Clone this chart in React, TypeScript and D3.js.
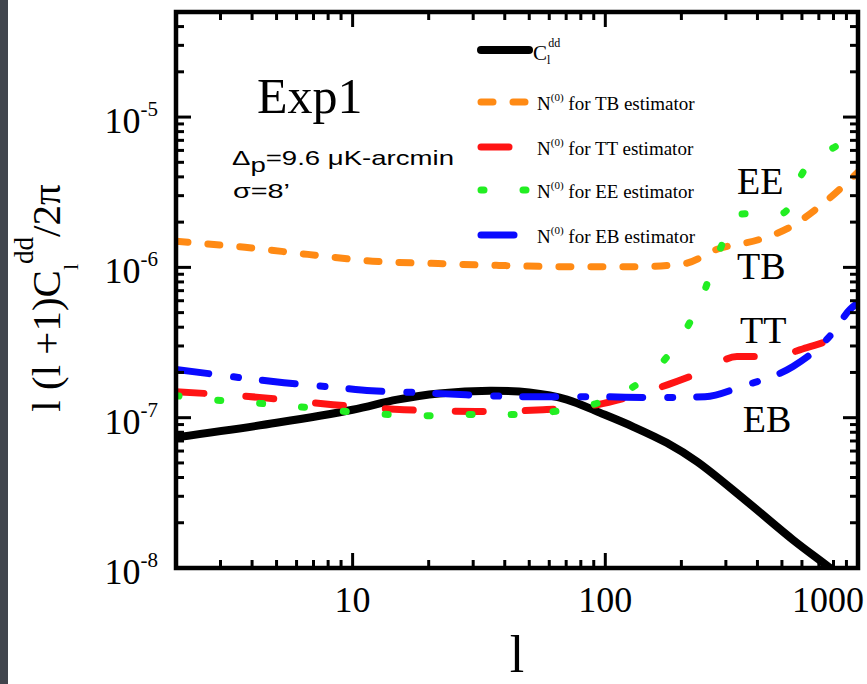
import React from 'react';
import * as d3 from 'd3';

const W = 867;
const H = 684;

// Multipole values and curves (l(l+1)C_l/2pi)
const ellCdd = [2, 5, 10, 15, 22, 35, 50, 70.5, 95, 129, 175, 231, 357, 553, 775, 1000];
const cdd = [7.4e-8, 9.25e-8, 1.13e-7, 1.32e-7, 1.45e-7, 1.51e-7, 1.47e-7, 1.32e-7, 1.08e-7, 8.7e-8, 6.8e-8, 5.09e-8, 2.84e-8, 1.54e-8, 1.0e-8, 7.1e-9];

const ellTB = [2, 3.75, 6.65, 12, 21.8, 38, 74.5, 133, 206, 277, 410, 538, 706, 1000];
const nTB = [1.49e-6, 1.36e-6, 1.22e-6, 1.1e-6, 1.06e-6, 1.03e-6, 1.01e-6, 1.01e-6, 1.06e-6, 1.32e-6, 1.54e-6, 1.85e-6, 2.55e-6, 4.3e-6];

const ellTT = [2, 4.38, 8.36, 16, 30.8, 56.7, 92.7, 122, 177, 243, 332, 460, 628, 871, 1000];
const nTT = [1.49e-7, 1.36e-7, 1.22e-7, 1.13e-7, 1.1e-7, 1.13e-7, 1.22e-7, 1.36e-7, 1.66e-7, 2.03e-7, 2.55e-7, 2.55e-7, 2.93e-7, 3.47e-7, 3.7e-7];

const ellEE = [2, 3.04, 4.42, 6.54, 9.5, 13.9, 20.6, 29.9, 44.7, 65, 97, 141, 197, 241, 277, 341, 420, 505, 606, 865, 1000];
const nEE = [1.4e-7, 1.3e-7, 1.24e-7, 1.17e-7, 1.1e-7, 1.05e-7, 1.03e-7, 1.05e-7, 1.05e-7, 1.11e-7, 1.28e-7, 1.79e-7, 3.31e-7, 6.3e-7, 1.18e-6, 2.26e-6, 2.3e-6, 2.3e-6, 4.3e-6, 6.8e-6, 8.2e-6];

const ellEB = [2, 2.85, 3.55, 5.35, 7.92, 11.9, 18, 28.1, 49, 88.6, 161, 248, 364, 449, 553, 796, 929, 1000];
const nEB = [2.09e-7, 1.94e-7, 1.85e-7, 1.71e-7, 1.61e-7, 1.51e-7, 1.47e-7, 1.42e-7, 1.38e-7, 1.38e-7, 1.36e-7, 1.38e-7, 1.66e-7, 1.85e-7, 2.19e-7, 3.69e-7, 5.25e-7, 5.8e-7];

const xDomain = [2, 1000];
const yDomain = [1e-8, 5e-5];
const xTickLabels = [10, 100, 1000];
const yTickExps = [-8, -7, -6, -5];

const legendLabels = ['TB', 'TT', 'EE', 'EB'];
const curveTags = [
  { text: 'EE', l: 332, v: 3.07e-6 },
  { text: 'TB', l: 332, v: 8.32e-7 },
  { text: 'TT', l: 341, v: 3.16e-7 },
  { text: 'EB', l: 350, v: 8.07e-8 },
];

const SERIF = "'Liberation Serif', 'Times New Roman', serif";
const SANS = "'Liberation Sans', Arial, sans-serif";

export default function App() {
  const left = 176, right = 858, top = 12, bottom = 568;
  const x = d3.scaleLog().domain(xDomain).range([left, right]);
  const y = d3.scaleLog().domain(yDomain).range([bottom, top]);

  const mkPath = (ls: number[], vs: number[], smooth: boolean) =>
    d3
      .line<number>()
      .x((_, i) => x(ls[i]))
      .y((d) => y(d))
      .curve(smooth ? d3.curveCatmullRom.alpha(0.5) : d3.curveMonotoneX)(vs) || '';

  const series = [
    { ls: ellCdd, vs: cdd, color: '#000000', w: 8, dash: undefined as string | undefined, smooth: true },
    { ls: ellTB, vs: nTB, color: '#ff8a14', w: 7, dash: '12 20', smooth: false },
    { ls: ellTT, vs: nTT, color: '#ff1414', w: 7, dash: '28 42', smooth: false },
    { ls: ellEE, vs: nEE, color: '#22ee22', w: 7, dash: '3 39', smooth: false },
    { ls: ellEB, vs: nEB, color: '#0a0aff', w: 7, dash: '33 25 5 24', smooth: false },
  ];

  // ticks
  const xTicks: { v: number; major: boolean }[] = [];
  [1, 10, 100, 1000].forEach((d) => {
    for (let m = 1; m <= 9; m++) {
      const v = d * m;
      if (v > xDomain[0] && v < xDomain[1]) xTicks.push({ v, major: m === 1 });
    }
  });
  const yTicks: { v: number; major: boolean }[] = [];
  [-8, -7, -6, -5].forEach((e) => {
    for (let m = 1; m <= 9; m++) {
      const v = m * Math.pow(10, e);
      if (v > yDomain[0] * 1.0001 && v < yDomain[1] * 0.9999) yTicks.push({ v, major: m === 1 });
    }
  });
  const majLen = 15, minLen = 8;

  const legendY = [50, 102, 147, 190, 235];
  const legX0 = 481, legX1 = 529;

  return (
    <svg width={W} height={H} style={{ position: 'absolute', left: 0, top: 0, background: '#fff' }}>
      <rect x={0} y={0} width={W} height={H} fill="#ffffff" />
      <rect x={0} y={0} width={8} height={H} fill="#41454d" />
      <defs>
        <clipPath id="plotClip">
          <rect x={left} y={top} width={right - left} height={bottom - top} />
        </clipPath>
      </defs>

      {/* curves */}
      <g clipPath="url(#plotClip)">
        {series.map((s, i) => (
          <path
            key={i}
            d={mkPath(s.ls, s.vs, s.smooth)}
            fill="none"
            stroke={s.color}
            strokeWidth={s.w}
            strokeDasharray={s.dash}
            strokeLinecap="round"
            strokeLinejoin="round"
          />
        ))}
      </g>

      {/* ticks */}
      <g stroke="#000" strokeWidth={3}>
        {xTicks.map((t, i) => {
          const px = x(t.v);
          const len = t.major ? majLen : minLen;
          return (
            <g key={'xt' + i}>
              <line x1={px} x2={px} y1={bottom} y2={bottom - len} />
              <line x1={px} x2={px} y1={top} y2={top + len} />
            </g>
          );
        })}
        {yTicks.map((t, i) => {
          const py = y(t.v);
          const len = t.major ? majLen : minLen;
          return (
            <g key={'yt' + i}>
              <line x1={left} x2={left + len} y1={py} y2={py} />
              <line x1={right} x2={right - len} y1={py} y2={py} />
            </g>
          );
        })}
      </g>
      <rect x={left} y={top} width={right - left} height={bottom - top} fill="none" stroke="#000" strokeWidth={4.5} />

      {/* x tick labels */}
      {xTickLabels.map((v) => {
        const wEst = String(v).length * 18;
        const cx = Math.min(x(v), W - wEst / 2 - 3);
        return (
          <text key={'xl' + v} x={cx} y={612} fontFamily={SERIF} fontSize={36} textAnchor="middle" fill="#000">
            {v}
          </text>
        );
      })}

      {/* y tick labels */}
      {yTickExps.map((e) => (
        <text key={'yl' + e} x={158} y={y(Math.pow(10, e)) + 16} fontFamily={SERIF} fontSize={36} textAnchor="end" fill="#000">
          <tspan>10</tspan>
          <tspan fontSize={21} dy={-17}>{String(e)}</tspan>
        </text>
      ))}

      {/* axis titles */}
      <text x={517} y={672} fontFamily={SERIF} fontSize={52} textAnchor="middle" fill="#000">l</text>
      <g transform="translate(60, 298) rotate(-90)">
        <text x={0} y={0} fontFamily={SERIF} fontSize={41} textAnchor="middle" fill="#000">
          <tspan>l (l +1)C</tspan>
          <tspan fontSize={22} dy={18}>l</tspan>
          <tspan fontSize={27} dy={-45}>dd</tspan>
          <tspan dy={27}>/2π</tspan>
        </text>
      </g>

      {/* annotations */}
      <text x={257} y={113} fontFamily={SERIF} fontSize={50} fill="#000">Exp1</text>
      <text x={232} y={165} fontFamily={SANS} fontSize={21} fill="#000" textLength={222} lengthAdjust="spacingAndGlyphs">
        <tspan>Δ</tspan>
        <tspan dy={7}>p</tspan>
        <tspan dy={-7}>=9.6 μK-arcmin</tspan>
      </text>
      <text x={233} y={198} fontFamily={SANS} fontSize={21} fill="#000" textLength={57} lengthAdjust="spacingAndGlyphs">
        σ=8’
      </text>

      {curveTags.map((t) => (
        <text key={t.text} x={x(t.l)} y={y(t.v)} fontFamily={SERIF} fontSize={38} fill="#000">
          {t.text}
        </text>
      ))}

      {/* legend */}
      <g>
        <line x1={legX0} x2={legX1} y1={legendY[0]} y2={legendY[0]} stroke="#000" strokeWidth={8} strokeLinecap="round" />
        <text x={533} y={legendY[0] + 10} fontFamily={SERIF} fontSize={21} fill="#000">
          <tspan>C</tspan>
          <tspan fontSize={12} dy={4}>l</tspan>
          <tspan fontSize={12} dx={-2} dy={-17}>dd</tspan>
        </text>
        {legendLabels.map((lab, i) => {
          const s = series[i + 1];
          const ly = legendY[i + 1];
          return (
            <g key={lab}>
              <line
                x1={legX0}
                x2={legX1}
                y1={ly}
                y2={ly}
                stroke={s.color}
                strokeWidth={s.w}
                strokeDasharray={s.dash}
                strokeLinecap="round"
              />
              <text x={537} y={ly + 8} fontFamily={SERIF} fontSize={19} fill="#000">
                <tspan>N</tspan>
                <tspan fontSize={11} dy={-9}>(0)</tspan>
                <tspan dy={9}> for {lab} estimator</tspan>
              </text>
            </g>
          );
        })}
      </g>
    </svg>
  );
}
